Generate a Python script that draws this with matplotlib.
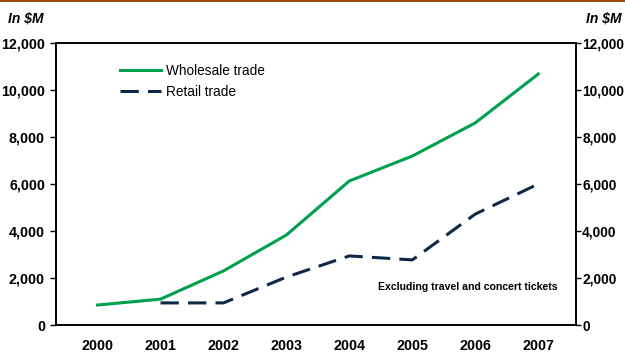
import numpy as np
import matplotlib.pyplot as plt

years = ['2000', '2001', '2002', '2003', '2004', '2005', '2006', '2007']
wholesale = [850, 1100, 2300, 3830, 6130, 7190, 8600, 10680]
retail_years = ['2001', '2002', '2003', '2004', '2005', '2006', '2007']
retail = [940, 940, 2040, 2940, 2770, 4720, 6000]
yticks = [0, 2000, 4000, 6000, 8000, 10000, 12000]

green = '#00a050'
navy = '#0f2848'

plt.rcParams['font.family'] = ['Liberation Sans', 'DejaVu Sans']

fig = plt.figure(figsize=(6.25, 3.52), dpi=100)
ax = fig.add_axes([0.0896, 0.0767, 0.8320, 0.8011])

x = np.arange(len(years))
xr = np.array([years.index(y) for y in retail_years])
ax.plot(x, wholesale, color=green, lw=2.2, label='Wholesale trade')
ax.plot(xr, retail, color=navy, lw=2.2, dashes=(6, 3), label='Retail trade')

ax.set_xlim(-0.66, 7.6)
ax.set_ylim(0, 12000)
ax.set_xticks(x)
ax.set_xticklabels(years, fontsize=10.3, fontweight='bold')
ax.set_yticks(yticks)
ax.set_yticklabels([f'{v:,}' for v in yticks], fontsize=10.3, fontweight='bold')
ax.tick_params(axis='x', length=0, pad=10)
ax.tick_params(axis='y', direction='out', length=4, width=1, pad=4)
for s in ax.spines.values():
    s.set_linewidth(1.2)

ax2 = ax.twinx()
ax2.set_ylim(0, 12000)
ax2.set_yticks(yticks)
ax2.set_yticklabels([f'{v:,}' for v in yticks], fontsize=9.9, fontweight='bold')
ax2.tick_params(axis='y', direction='out', length=3.5, width=1, pad=1)
for s in ax2.spines.values():
    s.set_linewidth(1.2)

leg = ax.legend(loc='upper left', bbox_to_anchor=(0.1, 0.97), frameon=False,
                fontsize=9.8, handlelength=3.0, handletextpad=0.35, labelspacing=0.55)

ax.text(0.965, 0.135, 'Excluding travel and concert tickets', transform=ax.transAxes,
        ha='right', va='center', fontsize=7.6, fontweight='bold')

fig.text(0.013, 0.948, 'In $M', fontsize=10, fontweight='bold', style='italic', va='center')
fig.text(0.994, 0.948, 'In $M', fontsize=10, fontweight='bold', style='italic', va='center', ha='right')

fig.add_artist(plt.Line2D([0, 1], [0.997, 0.997], transform=fig.transFigure, color='#9a4a0c', lw=1.5))

fig.savefig('out.png', dpi=100)
